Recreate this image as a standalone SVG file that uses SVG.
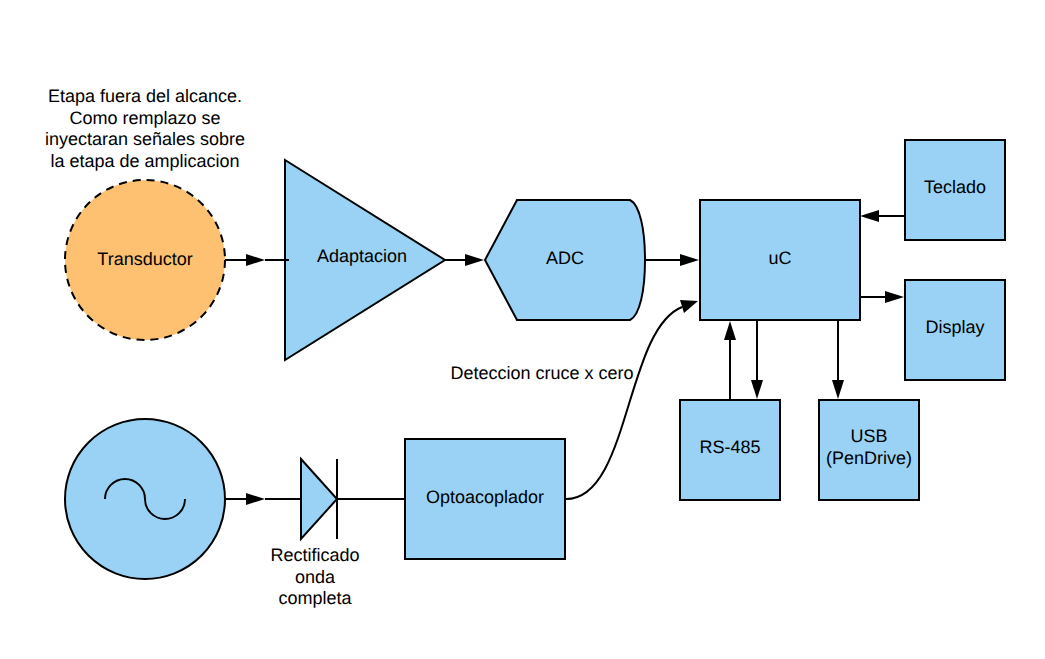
<svg xmlns="http://www.w3.org/2000/svg" width="1045" height="659" viewBox="0 0 1045 659">
<style>
text{font-family:"Liberation Sans",Arial,sans-serif;font-size:18px;fill:#000;text-anchor:middle;text-rendering:geometricPrecision}
.n{fill:#99d2f4;stroke:#000;stroke-width:2}
.c{fill:none;stroke:#000;stroke-width:2}
.h{fill:#000;stroke:none}
</style>
<rect width="1045" height="659" fill="#fff"/>
<g id="transductor">
<circle cx="145" cy="260" r="80" fill="#fec071" stroke="#000" stroke-width="2" stroke-dasharray="8 6"/>
<text x="145" y="265">Transductor</text>
</g>
<text x="145" y="102">Etapa fuera del alcance.</text>
<text x="145" y="124">Como remplazo se</text>
<text x="145" y="145">inyectaran señales sobre</text>
<text x="145" y="167">la etapa de amplicacion</text>
<g id="adaptacion">
<path class="n" d="M285 160L445 260L285 360Z"/>
<text x="362" y="262">Adaptacion</text>
</g>
<g id="adc">
<path class="n" d="M517 200H630C640 205 645 230 645 260C645 290 640 315 630 320H517L485 260Z"/>
<text x="565" y="264">ADC</text>
</g>
<g id="uc"><rect class="n" x="700" y="200" width="160" height="120"/><text x="780" y="264">uC</text></g>
<g id="teclado"><rect class="n" x="905" y="140" width="100" height="100"/><text x="955" y="193">Teclado</text></g>
<g id="display"><rect class="n" x="905" y="280" width="100" height="100"/><text x="955" y="333">Display</text></g>
<g id="rs485"><rect class="n" x="680" y="400" width="100" height="100"/><text x="730" y="453">RS-485</text></g>
<g id="usb"><rect class="n" x="819" y="400" width="100" height="100"/><text x="869" y="442">USB</text><text x="869" y="464">(PenDrive)</text></g>
<g id="optoacoplador"><rect class="n" x="405" y="439" width="160" height="120"/><text x="485" y="503">Optoacoplador</text></g>
<g id="fuente">
<circle class="n" cx="145" cy="499" r="80"/>
<path class="c" d="M105 499A20 20 0 0 1 145 499A20 20 0 0 0 185 499"/>
</g>
<g id="diodo">
<path class="n" d="M301 459L337 499L301 539Z"/>
<path class="c" d="M337 459V539"/>
</g>
<text x="315" y="561">Rectificado</text>
<text x="315" y="583">onda</text>
<text x="315" y="604">completa</text>
<text x="542" y="379">Deteccion cruce x cero</text>
<g id="connectors">
<path class="c" d="M225 260H248"/><path class="h" d="M246 254L265 260L246 266Z"/><path class="c" d="M265 260H289"/>
<path class="c" d="M445 260H465"/><path class="h" d="M465 254L484 260L465 266Z"/>
<path class="c" d="M645 260H682"/><path class="h" d="M680 254L699 260L680 266Z"/>
<path class="c" d="M566 499C630 499 625 330 682 307"/><path class="h" d="M680 300L698 301L684 313Z"/>
<path class="c" d="M905 216H878"/><path class="h" d="M879 210L860 216L879 222Z"/>
<path class="c" d="M860 297H887"/><path class="h" d="M885 291L904 297L885 303Z"/>
<path class="c" d="M730 400V338"/><path class="h" d="M724 340L730 321L736 340Z"/>
<path class="c" d="M757 320V382"/><path class="h" d="M751 380L757 399L763 380Z"/>
<path class="c" d="M838 320V382"/><path class="h" d="M832 380L838 399L844 380Z"/>
<path class="c" d="M225 499H248"/><path class="h" d="M246 493L265 499L246 505Z"/>
<path class="c" d="M265 499H301"/>
<path class="c" d="M337 499H405"/>
</g>
</svg>
